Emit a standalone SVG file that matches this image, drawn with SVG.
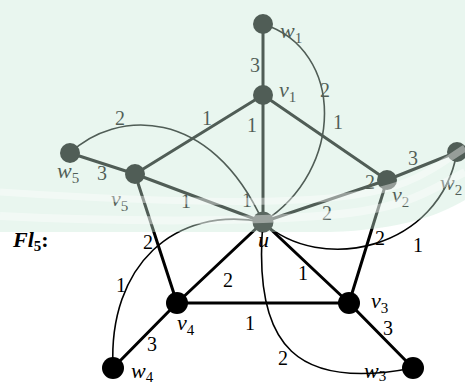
<svg xmlns="http://www.w3.org/2000/svg" width="465" height="385" viewBox="0 0 465 385">
<style>
.e{stroke:#000;stroke-width:3;fill:none;stroke-linecap:round}
.a{stroke:#000;stroke-width:1.6;fill:none}
.n{fill:#000}
.w{font-family:"Liberation Serif",serif;font-size:20px;fill:#000;text-anchor:middle}
.l{font-family:"Liberation Serif",serif;font-size:22px;font-style:italic;fill:#000}
.s{font-size:15px;font-style:normal}
.t{font-family:"Liberation Serif",serif;font-size:22px;font-style:italic;font-weight:bold;fill:#000}
</style>
<rect width="465" height="385" fill="#fff"/>
<g id="connectors">
<line class="e" x1="263" y1="24" x2="263" y2="95"/>
<line class="e" x1="263" y1="95" x2="263" y2="222"/>
<line class="e" x1="263" y1="95" x2="135" y2="174"/>
<line class="e" x1="263" y1="95" x2="387" y2="180"/>
<line class="e" x1="70" y1="153" x2="135" y2="174"/>
<line class="e" x1="135" y1="174" x2="263" y2="222"/>
<line class="e" x1="135" y1="174" x2="177" y2="303"/>
<line class="e" x1="263" y1="222" x2="387" y2="180"/>
<line class="e" x1="387" y1="180" x2="457" y2="152"/>
<line class="e" x1="387" y1="180" x2="349" y2="303"/>
<line class="e" x1="263" y1="222" x2="177" y2="303"/>
<line class="e" x1="263" y1="222" x2="349" y2="303"/>
<line class="e" x1="177" y1="303" x2="349" y2="303"/>
<line class="e" x1="177" y1="303" x2="113" y2="368"/>
<line class="e" x1="349" y1="303" x2="413" y2="368"/>
<path class="a" d="M70,153 C115,110 210,105 263,222"/>
<path class="a" d="M263,24 C345,50 345,170 263,222"/>
<path class="a" d="M457,152 C440,250 320,275 263,222"/>
<path class="a" d="M263,222 C252,350 300,390 413,368"/>
<path class="a" d="M113,368 C108,265 175,205 263,222"/>
</g>
<g id="w1"><circle class="n" cx="263" cy="24" r="10"/><text class="l" x="280" y="38">w<tspan class="s" dy="5">1</tspan></text></g>
<g id="v1"><circle class="n" cx="263" cy="95" r="10"/><text class="l" x="279" y="97">v<tspan class="s" dy="5">1</tspan></text></g>
<g id="w5"><circle class="n" cx="70" cy="153" r="10"/><text class="l" x="57" y="178">w<tspan class="s" dy="5">5</tspan></text></g>
<g id="v5"><circle class="n" cx="135" cy="174" r="10"/><text class="l" x="111" y="206">v<tspan class="s" dy="5">5</tspan></text></g>
<g id="u"><circle cx="263" cy="222" r="10.5" fill="#111"/><text class="l" x="258" y="247">u</text></g>
<g id="v2"><circle class="n" cx="387" cy="180" r="10"/><text class="l" x="392" y="202">v<tspan class="s" dy="5">2</tspan></text></g>
<g id="w2"><circle class="n" cx="457" cy="152" r="10"/><text class="l" x="440" y="190">w<tspan class="s" dy="5">2</tspan></text></g>
<g id="v4"><circle class="n" cx="177" cy="303" r="11"/><text class="l" x="177" y="330">v<tspan class="s" dy="5">4</tspan></text></g>
<g id="v3"><circle class="n" cx="349" cy="303" r="11"/><text class="l" x="371" y="308">v<tspan class="s" dy="5">3</tspan></text></g>
<g id="w4"><circle class="n" cx="113" cy="368" r="11"/><text class="l" x="131" y="378">w<tspan class="s" dy="4">4</tspan></text></g>
<g id="w3"><circle class="n" cx="413" cy="368" r="11"/><text class="l" x="364" y="378">w<tspan class="s" dy="3">3</tspan></text></g>
<g id="weights">
<text class="w" x="255" y="72">3</text>
<text class="w" x="325" y="97">2</text>
<text class="w" x="252" y="132">1</text>
<text class="w" x="207" y="125">1</text>
<text class="w" x="338" y="129">1</text>
<text class="w" x="120" y="125">2</text>
<text class="w" x="102" y="180">3</text>
<text class="w" x="186" y="208">1</text>
<text class="w" x="247" y="207">1</text>
<text class="w" x="370" y="189">2</text>
<text class="w" x="413" y="165">3</text>
<text class="w" x="327" y="220">2</text>
<text class="w" x="380" y="245">2</text>
<text class="w" x="418" y="252">1</text>
<text class="w" x="121" y="292">1</text>
<text class="w" x="148" y="249">2</text>
<text class="w" x="228" y="287">2</text>
<text class="w" x="303" y="280">1</text>
<text class="w" x="250" y="330">1</text>
<text class="w" x="388" y="335">3</text>
<text class="w" x="152" y="351">3</text>
<text class="w" x="283" y="365">2</text>
</g>
<text class="t" x="13" y="247">Fl<tspan class="s" font-style="normal" dy="4">5</tspan><tspan dy="-4" font-style="normal">:</tspan></text>
<g id="tint">
<path d="M0,0H465V200C440,215 400,230 330,232L0,232Z" fill="#c7e8d7" opacity="0.4"/>
<path d="M0,192C120,200 250,205 330,198S430,170 465,148" stroke="#fff" stroke-width="7" fill="none" opacity="0.4"/>
<path d="M0,216C120,222 250,222 330,215S430,190 465,172" stroke="#fff" stroke-width="8" fill="none" opacity="0.4"/>
</g>
</svg>
